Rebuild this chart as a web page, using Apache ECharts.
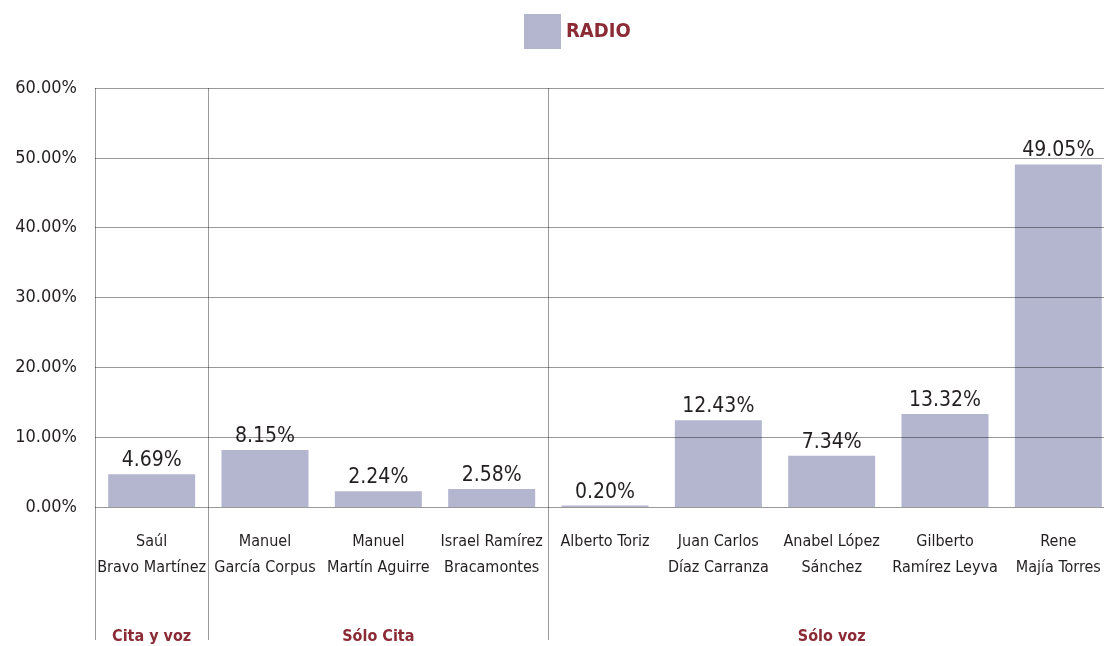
<!DOCTYPE html>
<html lang="es">
<head>
<meta charset="UTF-8">
<title>Radio</title>
<script src="https://cdn.jsdelivr.net/npm/echarts@6/dist/echarts.min.js"></script>
<style>
    html, body { margin: 0; padding: 0; background: #fff; }
    #main { width: 1104px; height: 646px; }
</style>
</head>
<body>
<div id="main"></div>
<script>
    // datos
    const categories = ['Saúl\nBravo Martínez', 'Manuel\nGarcía Corpus', 'Manuel\nMartín Aguirre',
        'Israel Ramírez\nBracamontes', 'Alberto Toriz', 'Juan Carlos\nDíaz Carranza',
        'Anabel López\nSánchez', 'Gilberto\nRamírez Leyva', 'Rene\nMajía Torres'];
    const radio = [4.69, 8.15, 2.24, 2.58, 0.20, 12.43, 7.34, 13.32, 49.05];
    const groupNames = ['Cita y voz', 'Sólo Cita', 'Sólo voz'];
    const groupSizes = [1, 3, 5];
    const yTicks = [0, 10, 20, 30, 40, 50, 60];

    const font = "'DejaVu Sans Condensed', 'DejaVu Sans', sans-serif";

    // eje de grupos: nombre en la categoria central, linea al inicio de cada grupo
    let groupAxis = [];
    let groupStarts = [];
    let pos = 0;
    groupSizes.forEach(function (n, g) {
        groupStarts.push(pos);
        for (let i = 0; i < n; i++) {
            groupAxis.push(i === Math.floor(n / 2) ? groupNames[g] : '');
        }
        pos += n;
    });

    const chart = echarts.init(document.getElementById('main'));
    chart.setOption({
        animation: false,
        textStyle: { fontFamily: font },
        legend: {
            data: ['RADIO'],
            icon: 'rect',
            left: 519,
            top: 9,
            itemWidth: 37,
            itemHeight: 35,
            itemGap: 5,
            textStyle: { color: '#8b2b35', fontSize: 20, fontWeight: 'bold', fontFamily: font }
        },
        grid: { left: 95, top: 88, width: 1020, bottom: 139, outerBoundsMode: 'none' },
        xAxis: [{
            type: 'category',
            data: categories,
            axisLine: { show: false },
            axisTick: { show: false },
            axisLabel: { interval: 0, color: '#231f20', fontSize: 16, lineHeight: 26, margin: 22 }
        }, {
            type: 'category',
            position: 'bottom',
            offset: 133,
            data: groupAxis,
            axisLine: { show: false },
            axisTick: {
                show: true,
                inside: true,
                length: 552,
                interval: function (index) { return groupStarts.indexOf(index) >= 0; },
                lineStyle: { color: '#9a9a9a', width: 1 }
            },
            axisLabel: { interval: 0, color: '#8b2b35', fontSize: 16, fontWeight: 'bold', margin: -11 }
        }],
        yAxis: {
            type: 'value',
            min: yTicks[0],
            max: yTicks[yTicks.length - 1],
            interval: 10,
            axisLine: { show: false },
            axisTick: { show: false },
            splitLine: { show: false },
            axisLabel: {
                color: '#231f20', fontSize: 18, margin: 18,
                formatter: function (v) { return v.toFixed(2) + '%'; }
            }
        },
        series: [{
            name: 'RADIO',
            type: 'bar',
            data: radio,
            barWidth: 87,
            z: 1,
            itemStyle: { color: '#b4b6cf' },
            label: {
                show: true,
                position: 'top',
                distance: 3,
                color: '#231f20',
                fontSize: 21,
                formatter: function (p) { return p.value.toFixed(2) + '%'; }
            },
            // lineas de la rejilla por encima de las barras
            markLine: {
                silent: true,
                z: 10,
                symbol: 'none',
                label: { show: false },
                lineStyle: { color: 'rgba(0,0,0,0.4)', type: 'solid', width: 1 },
                data: yTicks.map(function (v) { return { yAxis: v }; })
            }
        }]
    });
</script>
</body>
</html>
